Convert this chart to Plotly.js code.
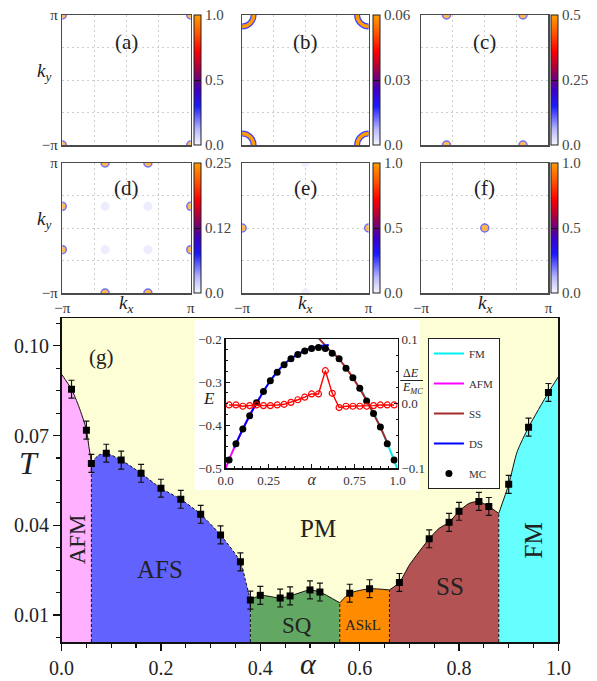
<!DOCTYPE html>
<html><head><meta charset="utf-8">
<script src="https://cdn.plot.ly/plotly-3.0.1.min.js"></script>
<style>html,body{margin:0;padding:0;background:#fff}#chart{width:597px;height:681px}</style>
</head><body><div id="chart"></div>
<script>
const PI = Math.PI;

// ===== Panels (a)-(f): structure-factor peaks =====
const panelLabels = ['(a)','(b)','(c)','(d)','(e)','(f)'];
const cbMax = [1.0, 0.06, 0.5, 0.25, 1.0, 1.0];
const cbTickText = [['0.0','0.5','1.0'],['0.0','0.03','0.06'],['0.0','0.25','0.5'],['0.0','0.12','0.25'],['0.0','0.5','1.0'],['0.0','0.5','1.0']];
const peakKx = [
  [-PI, PI, -PI, PI],
  [],
  [-0.6*PI, 0.6*PI, -0.6*PI, 0.6*PI],
  [-PI/3, PI/3, -PI/3, PI/3, -PI, -PI, PI, PI, -PI/3, PI/3, -PI/3, PI/3],
  [-PI, PI, 0, 0],
  [0]
];
const peakKy = [
  [PI, PI, -PI, -PI],
  [],
  [PI, PI, -PI, -PI],
  [PI, PI, -PI, -PI, PI/3, -PI/3, PI/3, -PI/3, PI/3, PI/3, -PI/3, -PI/3],
  [0, 0, PI, -PI],
  [0]
];
const peakVal = [
  [1, 1, 1, 1],
  [],
  [0.5, 0.5, 0.5, 0.5],
  [0.25, 0.25, 0.25, 0.25, 0.25, 0.25, 0.25, 0.25, 0.008, 0.008, 0.008, 0.008],
  [1, 1, 0.02, 0.02],
  [1]
];
// ring of panel (b), centred on the zone corners
const ringKx = [-PI, PI, -PI, PI];
const ringKy = [PI, PI, -PI, -PI];
const ringVal = [0.06, 0.06, 0.06, 0.06];

// ===== Panel (g): phase diagram =====
const afmA = [0, 0.02, 0.035, 0.05, 0.055, 0.06];
const afmT = [0.0905, 0.0855, 0.0796, 0.072, 0.0663, 0.061];
const afsA = [0.06, 0.075, 0.09, 0.12, 0.16, 0.20, 0.24, 0.28, 0.32, 0.36, 0.37, 0.38];
const afsT = [0.061, 0.0635, 0.0641, 0.0618, 0.0574, 0.0524, 0.0487, 0.0437, 0.0368, 0.0278, 0.0217, 0.015];
const sqA = [0.38, 0.40, 0.44, 0.46, 0.50, 0.52, 0.56];
const sqT = [0.015, 0.0166, 0.0157, 0.0164, 0.0184, 0.0177, 0.0141];
const asklA = [0.56, 0.58, 0.62, 0.66];
const asklT = [0.0141, 0.0173, 0.0188, 0.0184];
const ssA = [0.66, 0.68, 0.70, 0.74, 0.76, 0.78, 0.80, 0.82, 0.84, 0.86, 0.88];
const ssT = [0.0184, 0.0209, 0.0267, 0.0355, 0.039, 0.041, 0.0447, 0.0473, 0.048, 0.0463, 0.044];
const fmA = [0.88, 0.90, 0.917, 0.94, 0.98, 1.0];
const fmT = [0.044, 0.0537, 0.0646, 0.0728, 0.0844, 0.0897];

const mcA = [0.02, 0.05, 0.06, 0.09, 0.12, 0.16, 0.20, 0.24, 0.28, 0.32, 0.36, 0.38, 0.40, 0.44, 0.46, 0.50, 0.52, 0.58, 0.62, 0.68, 0.74, 0.78, 0.80, 0.84, 0.86, 0.90, 0.94, 0.98];
const mcT = [0.0855, 0.0718, 0.0607, 0.0641, 0.0618, 0.0574, 0.0524, 0.0487, 0.0437, 0.0368, 0.0278, 0.0150, 0.0166, 0.0157, 0.0164, 0.0184, 0.0177, 0.0173, 0.0188, 0.0209, 0.0355, 0.0410, 0.0447, 0.0480, 0.0463, 0.0537, 0.0728, 0.0844];
const mcErr = [0.003, 0.003, 0.003, 0.003, 0.003, 0.003, 0.003, 0.003, 0.003, 0.003, 0.003, 0.003, 0.003, 0.003, 0.003, 0.003, 0.003, 0.003, 0.003, 0.003, 0.003, 0.003, 0.003, 0.003, 0.003, 0.003, 0.003, 0.003];

const phaseNames = ['AFM', 'AFS', 'PM', 'SQ', 'ASkL', 'SS', 'FM'];
const phaseLabelA = [0.031, 0.198, 0.517, 0.473, 0.606, 0.781, 0.950];
const phaseLabelT = [0.0353, 0.0251, 0.0391, 0.0064, 0.0067, 0.0194, 0.0348];

// ===== Inset: energies =====
const insMcA = [0.02, 0.06, 0.10, 0.14, 0.18, 0.22, 0.26, 0.30, 0.34, 0.38, 0.42, 0.46, 0.50, 0.54, 0.58, 0.62, 0.66, 0.70, 0.74, 0.78, 0.82, 0.86, 0.90, 0.94, 0.98];
const insMcE = [-0.481, -0.443, -0.409, -0.378, -0.348, -0.322, -0.297, -0.277, -0.260, -0.246, -0.236, -0.228, -0.222, -0.220, -0.222, -0.233, -0.246, -0.268, -0.290, -0.314, -0.344, -0.373, -0.404, -0.443, -0.481];
const insDE = [-0.002, -0.002, -0.004, -0.003, -0.002, -0.003, -0.003, -0.002, -0.001, 0.002, 0.006, 0.010, 0.015, 0.015, 0.051, 0.016, -0.006, -0.004, -0.004, -0.004, -0.004, -0.003, -0.002, -0.002, -0.002];
const insFmA = [0.78, 0.82, 0.86, 0.90, 0.94, 0.98, 1.0];
const insFmE = [-0.312, -0.342, -0.372, -0.404, -0.442, -0.482, -0.503];
const insAfmA = [0, 0.05, 0.10, 0.15, 0.20];
const insAfmE = [-0.500, -0.452, -0.409, -0.370, -0.335];
const insSsA = [0.50, 0.55, 0.60, 0.65, 0.70, 0.75, 0.80, 0.85, 0.90, 0.95];
const insSsE = [-0.179, -0.202, -0.224, -0.242, -0.267, -0.296, -0.329, -0.366, -0.405, -0.450];
const insDsA = [0.05, 0.10, 0.15, 0.20, 0.25, 0.30, 0.35, 0.40, 0.45, 0.50, 0.55, 0.60];
const insDsE = [-0.452, -0.409, -0.370, -0.335, -0.303, -0.276, -0.255, -0.240, -0.229, -0.221, -0.216, -0.214];

// ===== styling =====
const serif = '"Liberation Serif", "DejaVu Serif", serif';
const W = 597, H = 681;
const px = v => v / W, py = v => 1 - v / H;
const ink = '#222';
const cscale = [[0,'#f6f6ff'],[0.12,'#b8b8ff'],[0.3,'#1a1aff'],[0.42,'#3c00c8'],[0.5,'#6a0080'],[0.6,'#b0003c'],[0.72,'#ff0000'],[0.86,'#ff5500'],[1,'#ff9c00']];
const TMIN = 0.001, TMAX = 0.1093;

const traces = [];
const layout = {
  width: W, height: H, margin: {l:0, r:0, t:0, b:0},
  paper_bgcolor: '#fff', plot_bgcolor: '#fff',
  font: {family: serif, color: ink},
  showlegend: true, hovermode: false,
  annotations: [], shapes: []
};
function note(xp, yp, text, size, extra) {
  layout.annotations.push(Object.assign({xref:'paper', yref:'paper', x:px(xp), y:py(yp), text:text, showarrow:false,
    xanchor:'center', yanchor:'middle', font:{size:size, color:ink, family:serif}}, extra || {}));
}

// ---------- main phase diagram ----------
layout.xaxis = {domain:[px(62.3), px(565)], range:[0,1], anchor:'y', tickmode:'linear', tick0:0, dtick:0.2, tickformat:'.1f',
  ticks:'outside', ticklen:7, tickwidth:1.2, tickcolor:'#111', showline:true, mirror:true, linecolor:'#111', linewidth:1.5,
  showgrid:false, zeroline:false, tickfont:{size:20, color:ink},
  minor:{tickmode:'linear', tick0:0, dtick:0.05, ticks:'outside', ticklen:4, tickcolor:'#111', showgrid:false}};
layout.yaxis = {domain:[py(642), py(318)], range:[TMIN, TMAX], anchor:'x', tickmode:'linear', tick0:0.01, dtick:0.03, tickformat:'.2f',
  ticks:'outside', ticklen:7, tickwidth:1.2, tickcolor:'#111', showline:true, mirror:true, linecolor:'#111', linewidth:1.5,
  showgrid:false, zeroline:false, tickfont:{size:20, color:ink},
  minor:{tickmode:'linear', tick0:0.01, dtick:0.0075, ticks:'outside', ticklen:4, tickcolor:'#111', showgrid:false}};

// PM background and white inset card
layout.shapes.push({type:'rect', xref:'x', yref:'y', x0:0, x1:1, y0:TMIN, y1:TMAX, fillcolor:'#fdfdd6', line:{width:0}, layer:'below'});
layout.shapes.push({type:'rect', xref:'x', yref:'y', x0:0.268, x1:0.7215, y0:0.0518, y1:0.1086, fillcolor:'#ffffff', line:{width:0}, layer:'below'});

const regions = [
  {a:afmA, t:afmT, fill:'#ffb0ff', dash:'solid'},
  {a:afsA, t:afsT, fill:'#6262ff', dash:'3px,2px'},
  {a:sqA, t:sqT, fill:'#62a862', dash:'solid'},
  {a:asklA, t:asklT, fill:'#ff8c00', dash:'solid'},
  {a:ssA, t:ssT, fill:'#b45353', dash:'solid'},
  {a:fmA, t:fmT, fill:'#66ffff', dash:'solid'}
];
regions.forEach(r => {
  traces.push({type:'scatter', mode:'lines', x:r.a, y:r.t, xaxis:'x', yaxis:'y', fill:'tozeroy', fillcolor:r.fill,
    line:{color:'#111', width:1, dash:r.dash, shape:'spline', smoothing:0.6}, showlegend:false, hoverinfo:'skip'});
});
// dashed vertical phase boundaries
regions.slice(1).forEach(r => {
  traces.push({type:'scatter', mode:'lines', x:[r.a[0], r.a[0]], y:[TMIN, r.t[0]], xaxis:'x', yaxis:'y',
    line:{color:'#111', width:1, dash:'3px,2px'}, showlegend:false, hoverinfo:'skip'});
});
// MC critical temperatures
traces.push({type:'scatter', mode:'markers', x:mcA, y:mcT, xaxis:'x', yaxis:'y',
  marker:{symbol:'square', size:7, color:'#000'},
  error_y:{type:'data', array:mcErr, visible:true, color:'#111', thickness:1.2, width:3},
  showlegend:false, hoverinfo:'skip'});

phaseNames.forEach((n, i) => {
  const big = {'ASkL':15, 'SQ':23, 'AFM':23, 'FM':25}[n] || 25;
  layout.annotations.push({xref:'x', yref:'y', x:phaseLabelA[i], y:phaseLabelT[i], text:n, showarrow:false,
    textangle:(n === 'AFM' || n === 'FM') ? -90 : 0, font:{size:big, color:ink, family:serif}, xanchor:'center', yanchor:'middle'});
});
layout.annotations.push({xref:'x', yref:'y', x:0.081, y:0.0962, text:'(g)', showarrow:false, xanchor:'center', yanchor:'middle', font:{size:21, color:ink}});
note(312, 663, '<i>α</i>', 30);
note(29, 463, '<i>T</i>', 32);

// ---------- inset ----------
const insTick = {size:13, color:'#333', family:serif};
layout.xaxis2 = {domain:[px(228.3), px(402.3)], range:[0,1], anchor:'y2', tickvals:[0,0.25,0.5,0.75,1],
  ticktext:['0.0','0.25','<span style="font-size:16px"><i>α</i></span>','0.75','1.0'],
  ticks:'inside', ticklen:4, tickcolor:'#111', showline:true, mirror:true, linecolor:'#111', linewidth:1.2,
  showgrid:false, zeroline:false, tickfont:insTick,
  minor:{tickmode:'linear', tick0:0, dtick:0.05, ticks:'inside', ticklen:2, tickcolor:'#111', showgrid:false}};
layout.yaxis2 = {domain:[py(468.3), py(339)], range:[-0.5,-0.2], anchor:'x2', tickvals:[-0.5,-0.4,-0.3,-0.2], tickformat:'.1f',
  ticks:'inside', ticklen:4, tickcolor:'#111', showline:true, mirror:true, linecolor:'#111', linewidth:1.2,
  showgrid:false, zeroline:false, tickfont:insTick,
  minor:{tickmode:'linear', tick0:-0.5, dtick:0.025, ticks:'inside', ticklen:2, tickcolor:'#111', showgrid:false}};
layout.yaxis3 = {overlaying:'y2', side:'right', anchor:'x2', range:[-0.1,0.1], tickvals:[-0.1,0,0.1], tickformat:'.1f',
  ticks:'inside', ticklen:4, tickcolor:'#111', showline:true, linecolor:'#111', linewidth:1.2,
  showgrid:false, zeroline:false, tickfont:insTick,
  minor:{tickmode:'linear', tick0:-0.1, dtick:0.025, ticks:'inside', ticklen:2, tickcolor:'#111', showgrid:false}};

traces.push({type:'scatter', mode:'lines', name:'FM', legendgroup:'g1', x:insFmA, y:insFmE, xaxis:'x2', yaxis:'y2', line:{color:'#00f0f0', width:2, shape:'spline'}});
traces.push({type:'scatter', mode:'lines', name:'AFM', legendgroup:'g2', x:insAfmA, y:insAfmE, xaxis:'x2', yaxis:'y2', line:{color:'#ff00ff', width:2, shape:'spline'}});
traces.push({type:'scatter', mode:'lines', name:'SS', legendgroup:'g3', x:insSsA, y:insSsE, xaxis:'x2', yaxis:'y2', line:{color:'#a52a2a', width:2, shape:'spline'}});
traces.push({type:'scatter', mode:'lines', name:'DS', legendgroup:'g4', x:insDsA, y:insDsE, xaxis:'x2', yaxis:'y2', line:{color:'#0000ff', width:2, shape:'spline'}});
traces.push({type:'scatter', mode:'markers', name:'MC', legendgroup:'g5', x:insMcA, y:insMcE, xaxis:'x2', yaxis:'y2', marker:{color:'#000', size:7}});
traces.push({type:'scatter', mode:'lines+markers', x:insMcA, y:insDE, xaxis:'x2', yaxis:'y3', showlegend:false,
  line:{color:'#ff0000', width:1.4}, marker:{symbol:'circle-open', color:'#ff0000', size:6, line:{width:1.2}}});

note(211, 398, '<i>E</i>', 17);
note(416, 373, 'Δ<i>E</i>', 12);
note(417, 388, '<i>E<sub>MC</sub></i>', 12);
layout.shapes.push({type:'line', xref:'paper', yref:'paper', x0:px(405), x1:px(428), y0:py(380.5), y1:py(380.5), line:{color:ink, width:1}, layer:'above'});

layout.legend = {x:px(433), y:py(338), xanchor:'left', yanchor:'top', bgcolor:'#fff', bordercolor:'#222', borderwidth:1,
  font:{size:11, color:'#333', family:serif}, tracegroupgap:11, traceorder:'grouped', itemwidth:30};

// ---------- panels (a)-(f) ----------
const panelX = [[63,193],[245,373],[426,555]];
const panelY = [[15,145],[163,293]];
const cbX = [196, 377, 558];
for (let p = 0; p < 6; p++) {
  const col = p % 3, row = Math.floor(p / 3);
  const xa = 'xaxis' + (3 + p), ya = 'yaxis' + (4 + p);
  const xid = 'x' + (3 + p), yid = 'y' + (4 + p);
  const ca = p === 0 ? 'coloraxis' : 'coloraxis' + (p + 1);
  const common = {range:[-PI, PI], tickvals:[-PI, -PI/2, 0, PI/2, PI], ticktext:['−π','','','','π'], ticks:'',
    showgrid:true, gridcolor:'#cfcfcf', griddash:'2px,3px', gridwidth:1, showline:true, mirror:true,
    linecolor:'#4a4a4a', linewidth:1.5, zeroline:false, tickfont:{size:15, color:'#333'}, fixedrange:true};
  layout[xa] = Object.assign({}, common, {domain:[px(panelX[col][0]), px(panelX[col][1])], anchor:yid, showticklabels:row === 1});
  layout[ya] = Object.assign({}, common, {domain:[py(panelY[row][1]), py(panelY[row][0])], anchor:xid, showticklabels:col === 0});
  const mx = cbMax[p];
  layout[ca] = {cmin:0, cmax:mx, colorscale:cscale, showscale:true,
    colorbar:{x:px(cbX[col]), xanchor:'left', xref:'paper', xpad:0, ypad:0,
      y:py((panelY[row][0] + panelY[row][1]) / 2), yanchor:'middle', len:130, lenmode:'pixels',
      thickness:7, thicknessmode:'pixels', outlinecolor:'#222', outlinewidth:1,
      tickvals:[0, mx / 2, mx], ticktext:cbTickText[p], ticks:'inside', ticklen:7, tickcolor:'#111',
      tickfont:{size:15, color:'#444', family:serif}}};
  if (p === 1) {
    traces.push({type:'scatter', mode:'markers', x:ringKx, y:ringKy, xaxis:xid, yaxis:yid, showlegend:false, hoverinfo:'skip',
      marker:{symbol:'circle-open', size:23, color:'#4040ff', line:{width:6}}});
    traces.push({type:'scatter', mode:'markers', x:ringKx, y:ringKy, xaxis:xid, yaxis:yid, showlegend:false, hoverinfo:'skip',
      marker:{symbol:'circle-open', size:23, color:ringVal, coloraxis:ca, line:{width:3.5}}});
  } else {
    const vals = peakVal[p];
    traces.push({type:'scatter', mode:'markers', x:peakKx[p], y:peakKy[p], xaxis:xid, yaxis:yid, showlegend:false, hoverinfo:'skip',
      marker:{size:vals.map(v => v / mx < 0.3 ? 9 : 8), color:vals, coloraxis:ca,
        line:{width:1.5, color:vals.map(v => v / mx < 0.3 ? 'rgba(0,0,0,0)' : '#3535ff')}}});
  }
  note((panelX[col][0] + panelX[col][1]) / 2, row === 0 ? 42 : 188, panelLabels[p], 21);
  if (row === 1) note((panelX[col][0] + panelX[col][1]) / 2, 304, '<i>k<sub>x</sub></i>', 19);
  if (col === 0) note(45, row === 0 ? 72 : 220, '<i>k<sub>y</sub></i>', 19);
}

Plotly.newPlot('chart', traces, layout, {staticPlot:true, displayModeBar:false});
</script>
</body></html>
